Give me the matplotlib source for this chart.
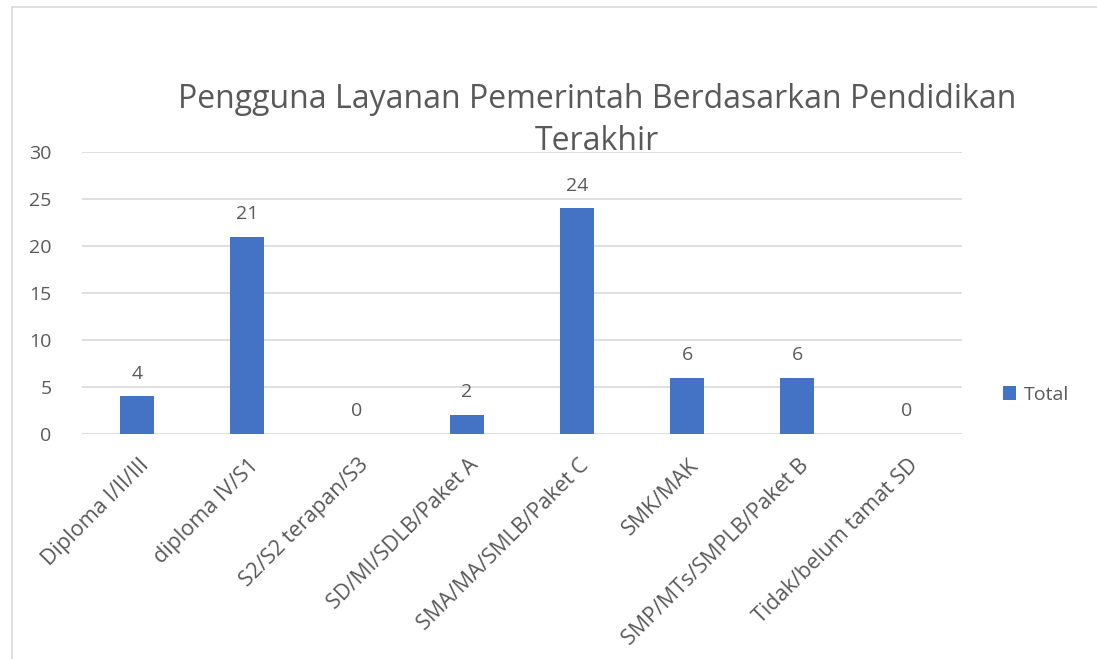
import matplotlib
matplotlib.use("Agg")
import matplotlib.pyplot as plt
from matplotlib.patches import Rectangle
from matplotlib.transforms import ScaledTranslation

categories = [
    "Diploma I/II/III",
    "diploma IV/S1",
    "S2/S2 terapan/S3",
    "SD/MI/SDLB/Paket A",
    "SMA/MA/SMLB/Paket C",
    "SMK/MAK",
    "SMP/MTs/SMPLB/Paket B",
    "Tidak/belum tamat SD",
]
totals = [4, 21, 0, 2, 24, 6, 6, 0]
y_ticks = [0, 5, 10, 15, 20, 25, 30]
title_lines = ["Pengguna Layanan Pemerintah Berdasarkan Pendidikan", "Terakhir"]
series_name = "Total"

BAR = "#4472C4"
TEXT = "#595959"
GRID = "#D9D9D9"
FONT = ["Open Sans", "DejaVu Sans"]

plt.rcParams["font.family"] = FONT

W, H = 1097, 659
fig = plt.figure(figsize=(W / 100, H / 100), dpi=100)
fig.patch.set_facecolor("white")

# chart area border
fig.add_artist(Rectangle((12 / W, -0.1), 2.0, 1 - 7 / H + 0.1,
                         transform=fig.transFigure, fill=False,
                         edgecolor="#D9D9D9", linewidth=1.2))

ax = fig.add_axes([82 / W, 1 - 434 / H, 880 / W, 282 / H])
x = range(len(categories))
ax.bar(x, totals, width=0.31, color=BAR, zorder=3, label=series_name)

ax.set_ylim(0, 30)
ax.set_xlim(-0.5, len(categories) - 0.5)
ax.set_yticks(y_ticks)
ax.yaxis.grid(True, color=GRID, linewidth=1.2, zorder=0)
for s in ax.spines.values():
    s.set_visible(False)
ax.tick_params(axis="both", length=0, labelsize=14, labelcolor=TEXT)
ax.tick_params(axis="y", pad=22)

ax.set_xticks(list(x))
ax.set_xticklabels(categories, rotation=45, ha="right", va="top",
                   rotation_mode="anchor", fontsize=15.5, color=TEXT)
ax.tick_params(axis="x", pad=15)
shift = ScaledTranslation(1 / 100, 0, fig.dpi_scale_trans)
for lbl in ax.get_xticklabels():
    lbl.set_transform(lbl.get_transform() + shift)

for xi, v in zip(x, totals):
    ax.annotate(f"{v}", (xi, v), xytext=(0, 10), textcoords="offset points",
                ha="center", va="bottom", fontsize=14, color=TEXT)

for line, ypix in zip(title_lines, [100, 142]):
    fig.text(597 / W, 1 - ypix / H, line, ha="center", va="center",
             fontsize=23, color=TEXT)

leg = ax.legend(loc="center left", bbox_to_anchor=(913 / 880, (434 - 395) / 282),
                frameon=False, fontsize=14, handlelength=0.7, handleheight=0.7,
                handletextpad=0.4, borderaxespad=0)
for t in leg.get_texts():
    t.set_color(TEXT)

fig.savefig("out.png", dpi=100, facecolor="white")
